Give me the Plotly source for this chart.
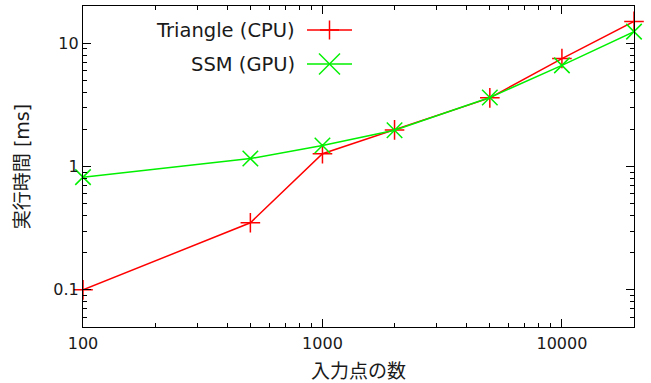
import plotly.graph_objects as go

# ---- data ----
n_points = [100, 500, 1000, 2000, 5000, 10000, 20000]
triangle_cpu = [0.10, 0.35, 1.27, 1.98, 3.6, 7.5, 15.0]
ssm_gpu = [0.82, 1.16, 1.48, 1.97, 3.63, 6.6, 12.4]
series_names = ["Triangle (CPU)", "SSM (GPU)"]
x_tickvals = [100, 1000, 10000]
x_ticktext = ["100", "1000", "10000"]
x_minor = [200, 300, 400, 500, 600, 700, 800, 900,
           2000, 3000, 4000, 5000, 6000, 7000, 8000, 9000, 20000]
y_tickvals = [0.1, 1, 10]
y_ticktext = ["0.1", "1", "10"]
y_minor = [0.06, 0.07, 0.08, 0.09, 0.2, 0.3, 0.4, 0.5, 0.6, 0.7, 0.8, 0.9,
           2, 3, 4, 5, 6, 7, 8, 9, 20]
x_title = "入力点の数"
y_title = "実行時間 [ms]"

RED = "#ff0000"
GREEN = "#00f000"
FONT = "DejaVu Sans, Noto Sans CJK JP, sans-serif"
TXT = "#1a1a1a"

fig = go.Figure()
fig.add_trace(go.Scatter(
    x=n_points, y=triangle_cpu, name=series_names[0], mode="lines+markers",
    line=dict(color=RED, width=1.5),
    marker=dict(symbol="cross-thin-open", size=14, line=dict(color=RED, width=1.5)),
    cliponaxis=False, showlegend=False))
fig.add_trace(go.Scatter(
    x=n_points, y=ssm_gpu, name=series_names[1], mode="lines+markers",
    line=dict(color=GREEN, width=1.5),
    marker=dict(symbol="x-thin-open", size=15.5, line=dict(color=GREEN, width=1.5)),
    cliponaxis=False, showlegend=False))

# ---- custom gnuplot-style legend (text right, sample left) ----
W, H = 551.0, 321.0  # plot area pixel size
def px(xp):
    return (xp - 83) / W
def py(yp):
    return (327 - yp) / H

rows = [(30, RED, "plus"), (64, GREEN, "x")]
shapes = []
annotations = []
for (ypix, col, kind), name in zip(rows, series_names):
    shapes.append(dict(type="line", xref="paper", yref="paper",
                       x0=px(307), x1=px(352), y0=py(ypix), y1=py(ypix),
                       line=dict(color=col, width=1.5)))
    cx = 329.5
    if kind == "plus":
        h = 9.5
        shapes.append(dict(type="line", xref="paper", yref="paper",
                           x0=px(cx), x1=px(cx), y0=py(ypix - h), y1=py(ypix + h),
                           line=dict(color=col, width=1.5)))
        shapes.append(dict(type="line", xref="paper", yref="paper",
                           x0=px(cx - h), x1=px(cx + h), y0=py(ypix), y1=py(ypix),
                           line=dict(color=col, width=1.5)))
    else:
        h = 10.5
        shapes.append(dict(type="line", xref="paper", yref="paper",
                           x0=px(cx - h), x1=px(cx + h), y0=py(ypix - h), y1=py(ypix + h),
                           line=dict(color=col, width=1.5)))
        shapes.append(dict(type="line", xref="paper", yref="paper",
                           x0=px(cx - h), x1=px(cx + h), y0=py(ypix + h), y1=py(ypix - h),
                           line=dict(color=col, width=1.5)))
    annotations.append(dict(text=name, xref="paper", yref="paper",
                            x=px(297), y=py(ypix), xanchor="right", yanchor="middle",
                            showarrow=False, font=dict(family=FONT, size=19.5, color=TXT)))

def axis_common(minor_vals):
    return dict(
        type="log", showline=True, linecolor="black", linewidth=1.2, mirror="ticks",
        ticks="inside", ticklen=8, tickwidth=1, tickcolor="black",
        showgrid=False, zeroline=False, automargin=False,
        minor=dict(ticks="inside", ticklen=4, tickwidth=1, tickcolor="black",
                   showgrid=False, tickvals=minor_vals),
        tickfont=dict(family=FONT, size=16, color=TXT),
    )

fig.update_layout(
    width=651, height=383,
    margin=dict(l=83, r=17, t=6, b=56),
    paper_bgcolor="white", plot_bgcolor="white",
    font=dict(family=FONT, size=16, color=TXT),
    shapes=shapes, annotations=annotations,
    xaxis=dict(axis_common(x_minor), range=[2, 4.30103], tickvals=x_tickvals, ticktext=x_ticktext,
               ticklabelstandoff=2,
               title=dict(text=x_title, standoff=12, font=dict(family=FONT, size=19, color=TXT))),
    yaxis=dict(axis_common(y_minor), range=[-1.30103, 1.30103], tickvals=y_tickvals, ticktext=y_ticktext,
               title=dict(text=y_title, standoff=18, font=dict(family=FONT, size=19, color=TXT))),
)

fig.write_html("out.html", config={"displayModeBar": False},
               post_script="document.body.style.margin='0';document.body.style.overflow='hidden';")
